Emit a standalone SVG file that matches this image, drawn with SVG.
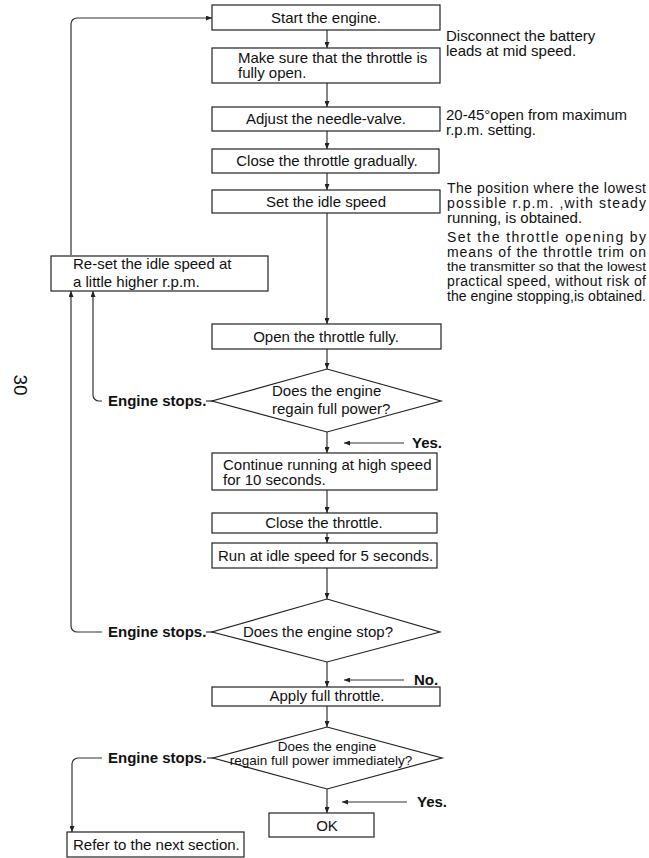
<svg xmlns="http://www.w3.org/2000/svg" width="649" height="858" viewBox="0 0 649 858">
<style>
.box{fill:#fff;stroke:#222;stroke-width:1.2}
.t{font-family:"Liberation Sans",Arial,sans-serif;font-size:15px;fill:#111}
.n{font-family:"Liberation Sans",Arial,sans-serif;font-size:14px;fill:#111}
.s{font-family:"Liberation Sans",Arial,sans-serif;font-size:13.5px;fill:#111}
.b{font-family:"Liberation Sans",Arial,sans-serif;font-size:15px;font-weight:bold;fill:#111}
.c{text-anchor:middle}
.ln{fill:none;stroke:#333;stroke-width:1.2}
</style>
<defs>
<marker id="ah" markerWidth="6" markerHeight="5" refX="6" refY="2.5" orient="auto" markerUnits="userSpaceOnUse">
<path d="M0,0 L6,2.5 L0,5 Z" fill="#222"/>
</marker>
</defs>
<rect width="649" height="858" fill="#fff"/>

<g id="connectors">
<path class="ln" marker-end="url(#ah)" d="M327,30 V48"/>
<path class="ln" marker-end="url(#ah)" d="M327,83 V107"/>
<path class="ln" marker-end="url(#ah)" d="M327,131 V149"/>
<path class="ln" marker-end="url(#ah)" d="M327,173 V190"/>
<path class="ln" marker-end="url(#ah)" d="M327,213 V324"/>
<path class="ln" marker-end="url(#ah)" d="M327,349 V369"/>
<path class="ln" marker-end="url(#ah)" d="M327,432 V453"/>
<path class="ln" marker-end="url(#ah)" d="M327,490 V513"/>
<path class="ln" marker-end="url(#ah)" d="M327,533 V543"/>
<path class="ln" marker-end="url(#ah)" d="M327,568 V599"/>
<path class="ln" marker-end="url(#ah)" d="M327,662 V687"/>
<path class="ln" marker-end="url(#ah)" d="M327,706 V727"/>
<path class="ln" marker-end="url(#ah)" d="M327,789 V813"/>
<path class="ln" marker-end="url(#ah)" d="M71,255 V24 A6,6 0 0 1 77,18 H212"/>
<path class="ln" marker-end="url(#ah)" d="M102,401 H99 A6,6 0 0 1 93,395 V291"/>
<path class="ln" marker-end="url(#ah)" d="M102,632 H77 A6,6 0 0 1 71,626 V291"/>
<path class="ln" marker-end="url(#ah)" d="M102,758 H78 A6,6 0 0 0 72,764 V832"/>
<path class="ln" d="M206,401 H213"/>
<path class="ln" d="M206,632 H213"/>
<path class="ln" d="M207,758 H214"/>
<path class="ln" marker-end="url(#ah)" d="M404,443 H344"/>
<path class="ln" marker-end="url(#ah)" d="M404,680 H344"/>
<path class="ln" marker-end="url(#ah)" d="M407,802 H342"/>
</g>

<g id="n-start"><rect class="box" x="212" y="5" width="228" height="25"/><text class="t c" x="326" y="23">Start the engine.</text></g>
<g id="n-makesure"><rect class="box" x="212" y="48" width="228" height="35"/><text class="t" x="238" y="63">Make sure that the throttle is</text><text class="t" x="238" y="78">fully open.</text></g>
<g id="n-adjust"><rect class="box" x="212" y="107" width="228" height="24"/><text class="t c" x="326" y="124">Adjust the needle-valve.</text></g>
<g id="n-closegrad"><rect class="box" x="212" y="149" width="227" height="24"/><text class="t c" x="327" y="166">Close the throttle gradually.</text></g>
<g id="n-setidle"><rect class="box" x="212" y="190" width="228" height="23"/><text class="t c" x="326" y="207">Set the idle speed</text></g>
<g id="n-reset"><rect class="box" x="51" y="256" width="217" height="35"/><text class="t" x="73" y="269">Re-set the idle speed at</text><text class="t" x="73" y="287">a little higher r.p.m.</text></g>
<g id="n-openfully"><rect class="box" x="212" y="324" width="229" height="25"/><text class="t c" x="326" y="342">Open the throttle fully.</text></g>
<g id="n-regain"><polygon class="box" points="327,369 441,401 327,432 212,401"/><text class="t" x="272" y="396">Does the engine</text><text class="t" x="272" y="414">regain full power?</text></g>
<g id="n-continue"><rect class="box" x="212" y="453" width="225" height="37"/><text class="t" x="223" y="470">Continue running at high speed</text><text class="t" x="223" y="485">for 10 seconds.</text></g>
<g id="n-closethr"><rect class="box" x="212" y="513" width="225" height="20"/><text class="t c" x="324" y="528">Close the throttle.</text></g>
<g id="n-runidle"><rect class="box" x="212" y="543" width="225" height="25"/><text class="t" x="218" y="561">Run at idle speed for 5 seconds.</text></g>
<g id="n-stop"><polygon class="box" points="327,599 440,632 327,662 212,632"/><text class="t c" x="318" y="637">Does the engine stop?</text></g>
<g id="n-apply"><rect class="box" x="212" y="687" width="228" height="19"/><text class="t c" x="327" y="701">Apply full throttle.</text></g>
<g id="n-regain2"><polygon class="box" points="327,727 442,758 327,789 213,758"/><text class="s c" x="327" y="751">Does the engine</text><text class="s c" x="321" y="765">regain full power immediately?</text></g>
<g id="n-ok"><rect class="box" x="269" y="813" width="105" height="24"/><text class="t c" x="327" y="831">OK</text></g>
<g id="n-refer"><rect class="box" x="67" y="832" width="177" height="25"/><text class="t" x="73" y="850">Refer to the next section.</text></g>

<g id="labels">
<text class="b" x="108" y="406">Engine stops.</text>
<text class="b" x="108" y="637">Engine stops.</text>
<text class="b" x="108" y="763">Engine stops.</text>
<text class="b" x="412" y="448">Yes.</text>
<text class="b" x="414" y="685">No.</text>
<text class="b" x="417" y="807">Yes.</text>
</g>

<g id="notes">
<text class="t" x="446" y="41">Disconnect the battery</text>
<text class="t" x="446" y="56">leads at mid speed.</text>
<text class="t" x="446" y="120">20-45°open from maximum</text>
<text class="t" x="446" y="135">r.p.m. setting.</text>
<text class="n" x="447" y="193" textLength="199" lengthAdjust="spacing">The position where the lowest</text>
<text class="n" x="447" y="208" textLength="199" lengthAdjust="spacing">possible r.p.m. ,with steady</text>
<text class="t" x="447" y="223">running, is obtained.</text>
<text class="n" x="447" y="242" textLength="199" lengthAdjust="spacing">Set the throttle opening by</text>
<text class="n" x="447" y="257" textLength="199" lengthAdjust="spacing">means of the throttle trim on</text>
<text class="n" x="447" y="271" textLength="199" lengthAdjust="spacingAndGlyphs" style="font-size:13px">the transmitter so that the lowest</text>
<text class="n" x="447" y="286" textLength="199" lengthAdjust="spacing">practical speed, without risk of</text>
<text class="n" x="447" y="301" textLength="199" lengthAdjust="spacing">the engine stopping,is obtained.</text>
</g>

<text class="t" x="0" y="0" style="font-size:19px" transform="translate(14,385) rotate(90)" text-anchor="middle">30</text>
</svg>
